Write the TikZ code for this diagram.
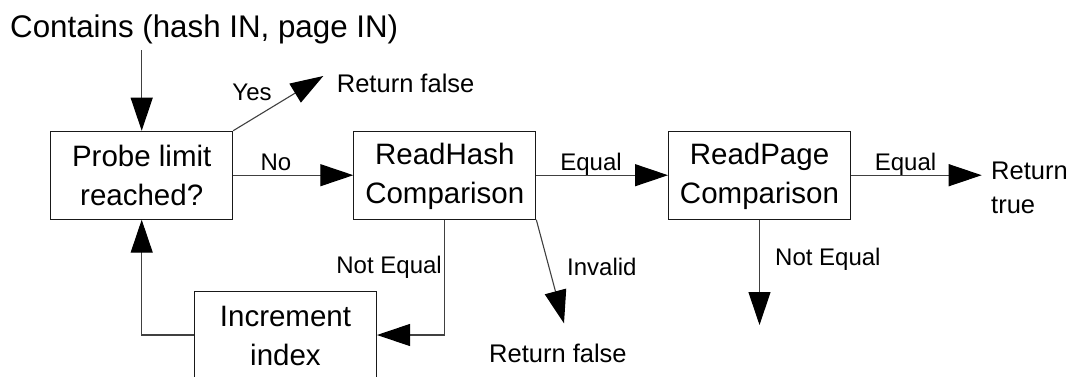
\documentclass[tikz,border=0pt]{standalone}
\usepackage{fontspec}
\setmainfont{Liberation Sans}
\usetikzlibrary{arrows.meta}
% two-line box caption with struts that balance the lines inside the box
\newcommand\twolines[2]{\rule{0pt}{23pt}#1\\#2\rule[-2pt]{0pt}{2pt}}

\begin{document}
\begin{tikzpicture}[x=1pt,y=-1pt,
  flowbox/.style={draw=black!90,line width=1pt,fill=white,minimum width=182pt,
    minimum height=88pt,inner sep=0pt,align=center,font=\fontsize{29.5}{39}\selectfont},
  edge/.style={draw=black!75,line width=1.1pt,
    -{Triangle[length=33pt,width=22pt,color=black]}},
  lbl/.style={inner sep=0pt,font=\fontsize{24}{28}\selectfont},
  outtxt/.style={inner sep=0pt,font=\fontsize{25.5}{34}\selectfont,align=left},
]
\useasboundingbox (0,0) rectangle (1070,376);

% heading
\node[anchor=base west,inner sep=0pt,font=\fontsize{31.3}{36}\selectfont] (title) at (10,37)
  {Contains (hash IN, page IN)};

% process boxes
\node[flowbox] (probe) at (141.7,175.2) {\twolines{Probe limit}{reached?}};
\node[flowbox] (rhash) at (444.8,175.2) {\twolines{ReadHash}{Comparison}};
\node[flowbox] (rpage) at (759.5,175.2) {\twolines{ReadPage}{Comparison}};
\node[flowbox] (inc)   at (285.5,335)   {\twolines{Increment}{index}};

% outcomes
\node[outtxt,anchor=base west] (rfalseA) at (336.7,92) {Return false};
\node[outtxt,anchor=base west] (rfalseB) at (489,362) {Return false};
\node[outtxt,anchor=west] (rtrue) at (991,188) {Return\\true};

% free arrow ends
\coordinate (entry)   at (141.7,50);
\coordinate (yestip)  at (323.3,76);
\coordinate (truetip) at (981.7,175.2);
\coordinate (invtip)  at (564,323.3);
\coordinate (netip)   at (759.5,325);

% connectors
\draw[edge] (entry) -- (probe.north);
\draw[edge] (probe.north east) -- (yestip);
\draw[edge] (probe.east) -- (rhash.west);
\draw[edge] (rhash.east) -- (rpage.west);
\draw[edge] (rpage.east) -- (truetip);
\draw[edge] (rpage.south) -- (netip);
\draw[edge] (rhash.south east) -- (invtip);
\draw[edge] (rhash.south) |- (inc.east);
\draw[edge] (inc.west) -| (probe.south);

% connector labels
\node[lbl,anchor=base] (lyes) at (252,100) {Yes};
\node[lbl,anchor=base] (lno) at (276,170) {No};
\node[lbl,anchor=base] (leqA) at (591,170) {Equal};
\node[lbl,anchor=base] (leqB) at (905.5,170) {Equal};
\node[lbl,anchor=base east] (lneA) at (442,273) {Not Equal};
\node[lbl,anchor=base west] (lneB) at (775,265) {Not Equal};
\node[lbl,anchor=base west] (linv) at (567,275) {Invalid};
\end{tikzpicture}
\end{document}
